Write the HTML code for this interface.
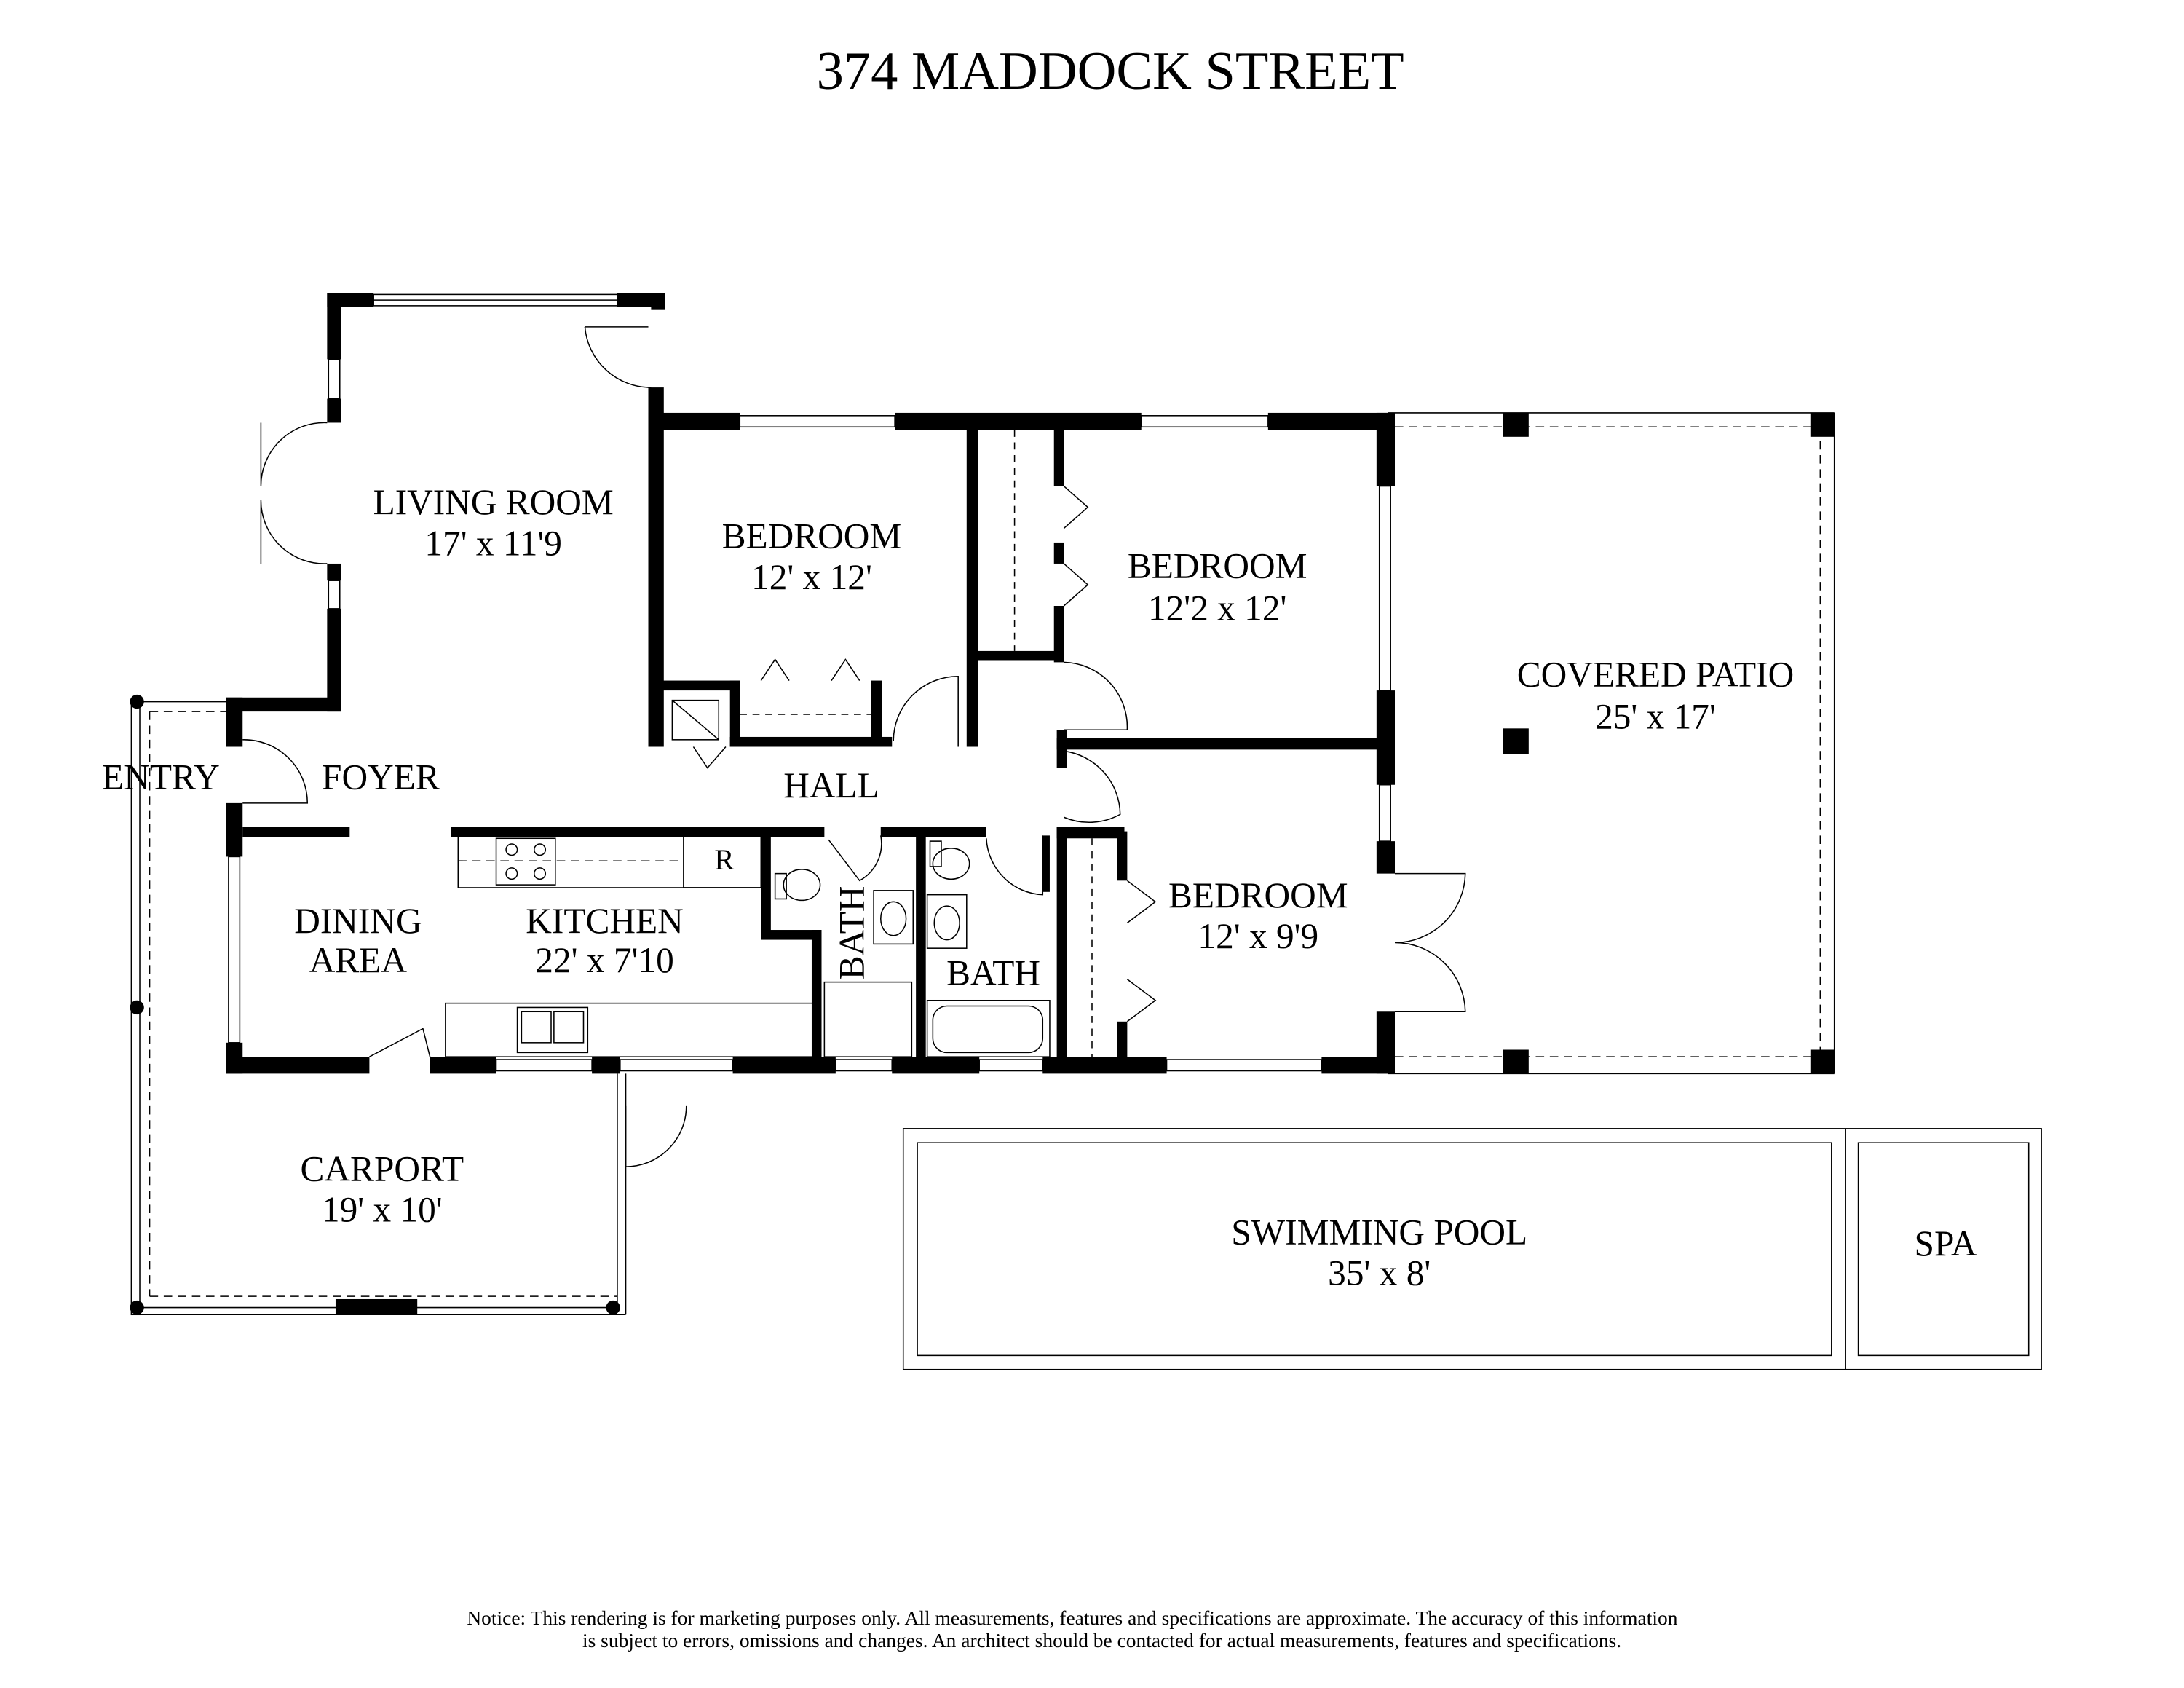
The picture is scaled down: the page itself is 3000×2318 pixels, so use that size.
<!DOCTYPE html>
<html><head><meta charset="utf-8"><style>
html,body{margin:0;padding:0;background:#fff;}
svg{display:block;}
text{font-family:"Liberation Serif",serif;fill:#000;}
</style></head><body>
<svg width="3000" height="2318" viewBox="0 0 1550 1198" xmlns="http://www.w3.org/2000/svg">
<rect width="1550" height="1198" fill="#fff"/>
<text x="788" y="63" font-size="38.5" text-anchor="middle">374 MADDOCK STREET</text>

<g fill="none" stroke="#000" stroke-width="0.8">
<rect x="265" y="209" width="173" height="8"/><line x1="265" y1="213" x2="438" y2="213"/>
<rect x="233" y="255" width="8" height="28"/><rect x="233" y="412" width="8" height="20"/>
<rect x="93" y="498" width="6" height="435"/>
<line x1="93" y1="933" x2="444" y2="933"/><line x1="99" y1="928" x2="438" y2="928"/>
<line x1="438" y1="762" x2="438" y2="928"/><line x1="444" y1="762" x2="444" y2="933"/>
<line x1="99" y1="498" x2="160" y2="498"/>
<g stroke-dasharray="6,4"><line x1="106" y1="505" x2="160" y2="505"/><line x1="106" y1="505" x2="106" y2="920"/><line x1="106" y1="920" x2="438" y2="920"/></g>
<rect x="162" y="608" width="8" height="132"/>
<line x1="985" y1="293" x2="1302" y2="293"/><line x1="985" y1="762" x2="1302" y2="762"/>
<line x1="1302" y1="293" x2="1302" y2="762"/>
<g stroke-dasharray="6,4"><line x1="990" y1="303" x2="1292" y2="303"/><line x1="1292" y1="303" x2="1292" y2="750"/><line x1="990" y1="750" x2="1292" y2="750"/></g>
<rect x="979" y="345" width="8" height="145"/><rect x="979" y="557" width="8" height="40"/>
<rect x="525" y="295" width="110" height="8"/><rect x="810" y="295" width="90" height="8"/>
<rect x="352" y="752" width="68" height="8"/><rect x="440" y="752" width="80" height="8"/>
<rect x="593" y="752" width="40" height="8"/><rect x="695" y="752" width="45" height="8"/>
<rect x="828" y="752" width="110" height="8"/>
<rect x="641" y="801" width="808" height="171"/><line x1="1310" y1="801" x2="1310" y2="972"/>
<rect x="651" y="811" width="649" height="151"/><rect x="1319" y="811" width="121" height="151"/>
<path d="M415 232 H460 M415 232 A47 47 0 0 0 462 275"/>
<path d="M185 300 V345 M185 345 A45 45 0 0 1 232 300 M185 400 V355 M185 355 A45 45 0 0 0 232 400"/>
<path d="M172 570 H218 A45 45 0 0 0 172 525"/>
<path d="M262 750 L300 730 L305 750"/>
<path d="M444 785 V828 A43 43 0 0 0 487 785"/>
<path d="M680 530 V480 A46 46 0 0 0 634 526"/>
<path d="M755 470 A46 46 0 0 1 800 518 H755"/>
<path d="M755 533 A46 46 0 0 1 795 578 A46 46 0 0 1 755 580"/>
<path d="M740 593 V635 A42 42 0 0 1 700 595"/>
<path d="M625 593 A30 30 0 0 1 610 625 L588 596"/>
<path d="M990 620 H1040 A50 50 0 0 1 990 669 M990 718 H1040 A50 50 0 0 0 990 669"/>
<path d="M755 345 L772 360 L755 375 M755 400 L772 415 L755 430"/>
<path d="M800 625 L820 640 L800 655 M800 695 L820 710 L800 725"/>
<path d="M540 483 L550 468 L560 483 M590 483 L600 468 L610 483"/>
<path d="M492 530 L502 545 L515 530"/>
<line x1="720" y1="305" x2="720" y2="462" stroke-dasharray="5,4"/>
<line x1="775" y1="595" x2="775" y2="750" stroke-dasharray="5,4"/>
<line x1="525" y1="507" x2="625" y2="507" stroke-dasharray="5,4"/>
<rect x="477" y="497" width="33" height="28"/><line x1="477" y1="497" x2="510" y2="525"/>
<rect x="325" y="593" width="215" height="37"/><line x1="325" y1="611" x2="485" y2="611" stroke-dasharray="6,4"/>
<rect x="352" y="595" width="42" height="33"/>
<circle cx="363" cy="603" r="4"/><circle cx="383" cy="603" r="4"/><circle cx="363" cy="620" r="4"/><circle cx="383" cy="620" r="4"/>
<rect x="485" y="593" width="55" height="37"/>
<rect x="316" y="712" width="262" height="38"/>
<rect x="367" y="715" width="50" height="32"/><rect x="370" y="718" width="21" height="22"/><rect x="393" y="718" width="21" height="22"/>
<ellipse cx="569" cy="628" rx="13" ry="11"/><rect x="550" y="620" width="8" height="18"/>
<ellipse cx="675" cy="613" rx="13" ry="11"/><rect x="660" y="597" width="8" height="18"/>
<rect x="620" y="632" width="28" height="38"/><ellipse cx="634" cy="652" rx="9" ry="12"/>
<rect x="658" y="635" width="28" height="38"/><ellipse cx="672" cy="655" rx="9" ry="12"/>
<rect x="585" y="697" width="62" height="53"/><rect x="658" y="710" width="87" height="40"/>
<rect x="662" y="714" width="78" height="33" rx="10"/>
</g>

<g fill="#000">
<rect x="232" y="208" width="33" height="10"/><rect x="438" y="208" width="34" height="10"/>
<rect x="232" y="208" width="10" height="47"/><rect x="232" y="283" width="10" height="17"/>
<rect x="232" y="400" width="10" height="12"/><rect x="232" y="432" width="10" height="73"/>
<rect x="462" y="208" width="10" height="12"/><rect x="460" y="275" width="11" height="255"/>
<rect x="160" y="495" width="82" height="10"/>
<rect x="160" y="495" width="12" height="35"/><rect x="160" y="570" width="12" height="38"/><rect x="160" y="740" width="12" height="22"/>
<rect x="172" y="587" width="76" height="7"/><rect x="320" y="587" width="265" height="7"/>
<rect x="625" y="587" width="30" height="7"/><rect x="650" y="587" width="50" height="7"/>
<rect x="160" y="750" width="102" height="12"/><rect x="305" y="750" width="47" height="12"/>
<rect x="420" y="750" width="20" height="12"/><rect x="520" y="750" width="73" height="12"/>
<rect x="633" y="750" width="62" height="12"/><rect x="740" y="750" width="88" height="12"/>
<rect x="938" y="750" width="52" height="12"/>
<rect x="460" y="293" width="65" height="12"/><rect x="635" y="293" width="175" height="12"/><rect x="900" y="293" width="90" height="12"/>
<rect x="686" y="305" width="8" height="225"/><rect x="470" y="483" width="55" height="7"/>
<rect x="518" y="483" width="7" height="47"/><rect x="518" y="523" width="115" height="7"/>
<rect x="618" y="483" width="8" height="47"/>
<rect x="748" y="305" width="7" height="40"/><rect x="748" y="385" width="7" height="15"/><rect x="748" y="430" width="7" height="40"/>
<rect x="692" y="462" width="60" height="7"/>
<rect x="750" y="518" width="7" height="27"/><rect x="750" y="524" width="235" height="8"/>
<rect x="977" y="293" width="13" height="52"/><rect x="977" y="490" width="13" height="67"/>
<rect x="977" y="597" width="13" height="23"/><rect x="977" y="718" width="13" height="44"/>
<rect x="750" y="587" width="48" height="8"/><rect x="750" y="587" width="7" height="163"/>
<rect x="793" y="590" width="7" height="35"/><rect x="793" y="725" width="7" height="25"/>
<rect x="540" y="593" width="7" height="72"/><rect x="540" y="660" width="43" height="7"/>
<rect x="576" y="660" width="7" height="90"/><rect x="650" y="593" width="7" height="157"/>
<rect x="740" y="593" width="5" height="40"/>
<rect x="1067" y="293" width="18" height="17"/><rect x="1285" y="293" width="17" height="17"/>
<rect x="1067" y="517" width="18" height="18"/><rect x="1067" y="745" width="18" height="17"/><rect x="1285" y="745" width="17" height="17"/>
<circle cx="97" cy="498" r="5"/><circle cx="97" cy="715" r="5"/><circle cx="97" cy="928" r="5"/><circle cx="435" cy="928" r="5"/>
<rect x="238" y="922" width="58" height="11"/>
</g>

<g font-size="25.5" text-anchor="middle">
<text x="350" y="365">LIVING ROOM</text><text x="350" y="394">17' x 11'9</text>
<text x="576" y="389">BEDROOM</text><text x="576" y="418">12' x 12'</text>
<text x="864" y="410">BEDROOM</text><text x="864" y="440">12'2 x 12'</text>
<text x="1175" y="487">COVERED PATIO</text><text x="1175" y="517">25' x 17'</text>
<text x="114" y="560">ENTRY</text><text x="270" y="560">FOYER</text><text x="590" y="566">HALL</text>
<text x="254" y="662">DINING</text><text x="254" y="690">AREA</text>
<text x="429" y="662">KITCHEN</text><text x="429" y="690">22' x 7'10</text>
<text x="705" y="699">BATH</text>
<text x="893" y="644">BEDROOM</text><text x="893" y="673">12' x 9'9</text>
<text x="271" y="838">CARPORT</text><text x="271" y="867">19' x 10'</text>
<text x="979" y="883">SWIMMING POOL</text><text x="979" y="912">35' x 8'</text>
<text x="1381" y="891">SPA</text>
<text x="514" y="617" font-size="21">R</text>
<text x="0" y="0" transform="translate(613,662) rotate(-90)">BATH</text>
</g>
<g font-size="14.2" text-anchor="middle">
<text x="761" y="1153">Notice: This rendering is for marketing purposes only. All measurements, features and specifications are approximate. The accuracy of this information</text>
<text x="782" y="1169">is subject to errors, omissions and changes. An architect should be contacted for actual measurements, features and specifications.</text>
</g>
</svg>
</body></html>
